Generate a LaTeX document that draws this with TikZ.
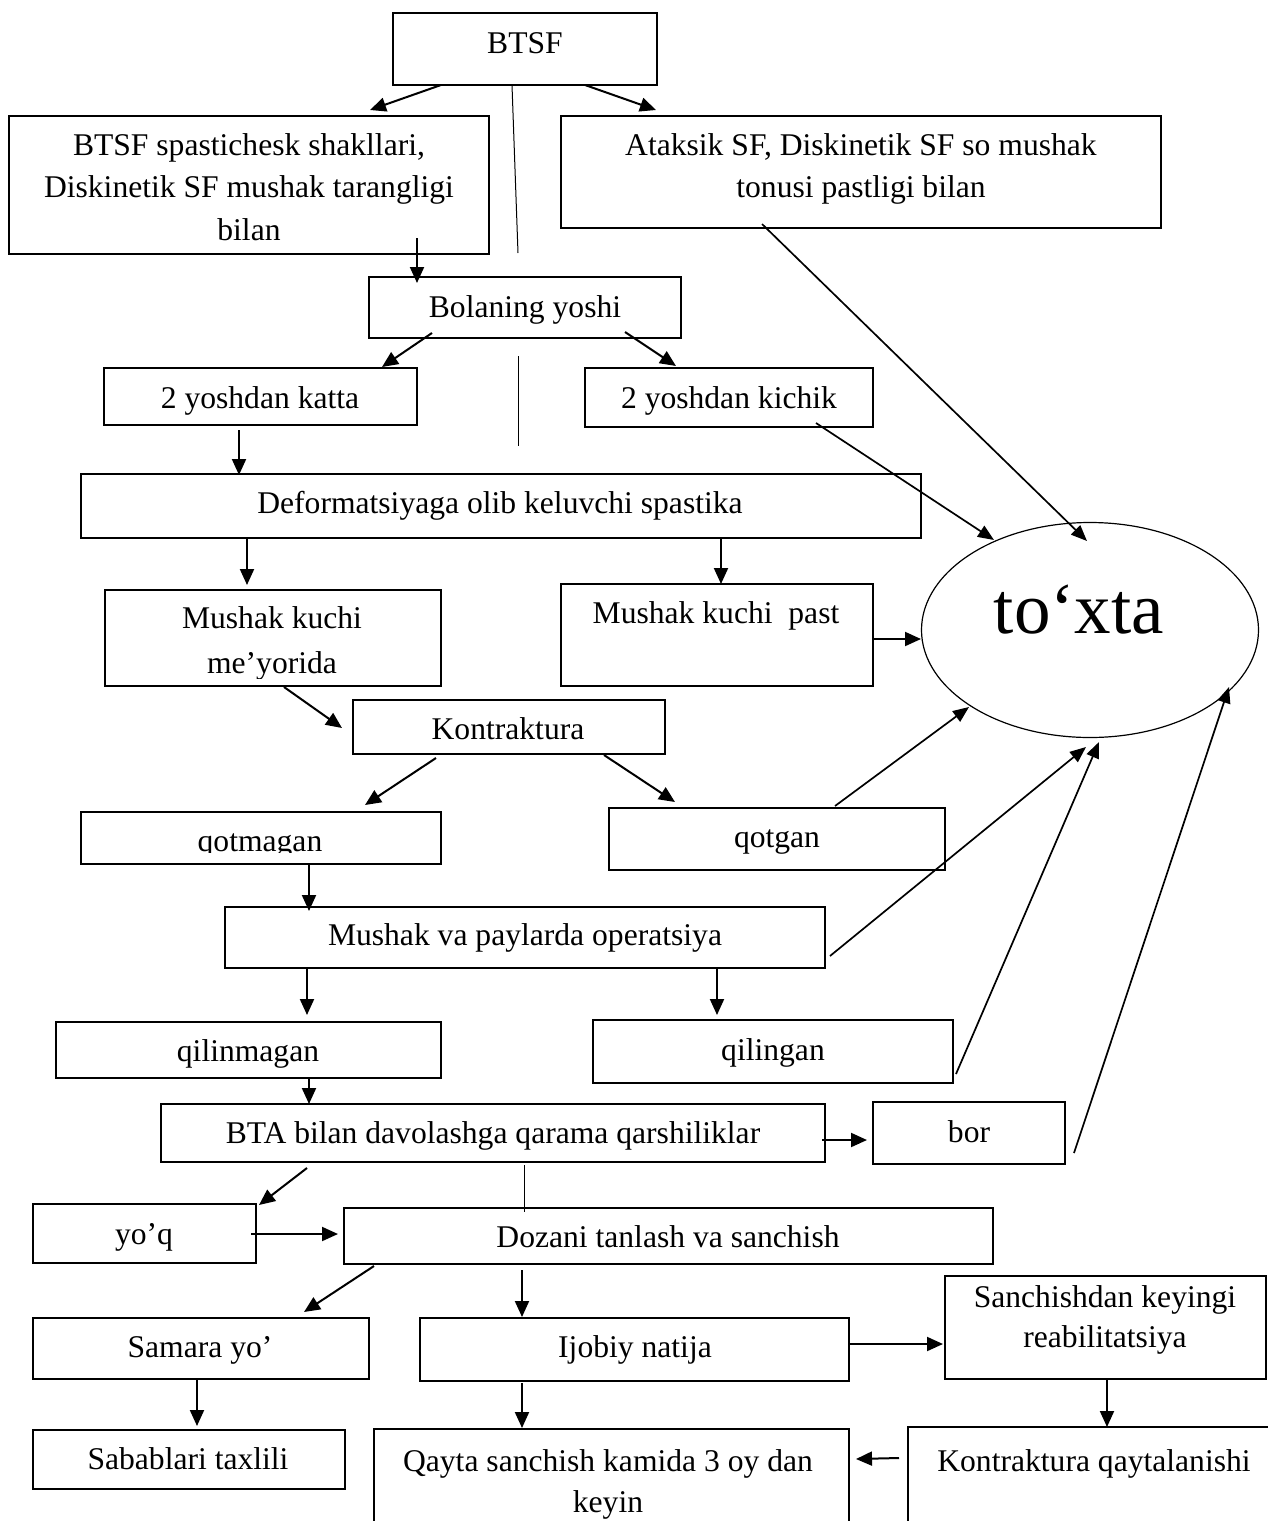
\documentclass[tikz,border=0pt]{standalone}
\usepackage{fontspec}
\setmainfont{Liberation Serif}
\usetikzlibrary{calc,fit,shapes.geometric,arrows.meta}
\begin{document}
\begin{tikzpicture}[x=0.5pt,y=-0.5pt,
  box/.style={draw, line width=1pt, rectangle, inner sep=0pt, outer sep=0pt},
  txt/.style={anchor=base, inner sep=0pt, outer sep=0pt, font=\fontsize{15.8}{21.5}\selectfont},
  arr/.style={line width=1pt, -{Triangle[length=8pt,width=7pt]}},
  larr/.style={line width=0.85pt, -{Triangle[length=8pt,width=6.5pt]}},
  plainline/.style={line width=0.5pt}]
\useasboundingbox (0,0) rectangle (1268,1521);
\begin{scope}
\clip (0,0) rectangle (1268,1521);
% boxes
\node[box, fit={(393,13) (657,85)}] (btsf) {};
\node[box, fit={(9,116) (489,254)}] (spast) {};
\node[box, fit={(561,116) (1161,228)}] (atak) {};
\node[box, fit={(369,277) (681,338)}] (bol) {};
\node[box, fit={(104,368) (417,425)}] (katta) {};
\node[box, fit={(585,368) (873,427)}] (kichik) {};
\node[box, fit={(81,474) (921,538)}] (deform) {};
\node[box, fit={(105,590) (441,686)}] (meyor) {};
\node[box, fit={(561,584) (873,686)}] (past) {};
\node[box, fit={(353,700) (665,754)}] (kontr) {};
\node[box, fit={(81,812) (441,864)}] (qotm) {};
\node[box, fit={(609,808) (945,870)}] (qotg) {};
\node[box, fit={(225,907) (825,968)}] (mva) {};
\node[box, fit={(56,1022) (441,1078)}] (qilm) {};
\node[box, fit={(593,1020) (953,1083)}] (qilg) {};
\node[box, fit={(161,1104) (825,1162)}] (bta) {};
\node[box, fit={(873,1102) (1065,1164)}] (bor) {};
\node[box, fit={(33,1204) (256,1263)}] (yoq) {};
\node[box, fit={(344,1208) (993,1264)}] (doz) {};
\node[box, fit={(33,1318) (369,1379)}] (sam) {};
\node[box, fit={(420,1318) (849,1381)}] (ijo) {};
\node[box, fit={(945,1276) (1266,1379)}] (san) {};
\node[box, fit={(33,1430) (345,1489)}] (sab) {};
\node[box, fit={(374,1429) (849,1560)}] (qay) {};
\node[box, fit={(908,1427) (1320,1560)}] (kq) {};
\node[draw, line width=0.6pt, ellipse, inner sep=0pt, outer sep=0pt,
      minimum width=168.5pt, minimum height=107.5pt] (stop) at (1090,630) {};

% texts
\node[txt] (btsf-t) at (525,53) {BTSF};
\node[txt] (spast-t1) at (249,155) {BTSF spastichesk shakllari,};
\node[txt] (spast-t2) at (249,197) {Diskinetik SF mushak tarangligi};
\node[txt] (spast-t3) at (249,240) {bilan};
\node[txt] (atak-t1) at (861,155) {Ataksik SF, Diskinetik SF so mushak};
\node[txt] (atak-t2) at (861,197) {tonusi pastligi bilan};
\node[txt] (bol-t) at (525,317) {Bolaning yoshi};
\node[txt] (katta-t) at (260,408) {2 yoshdan katta};
\node[txt] (kichik-t) at (729,408) {2 yoshdan kichik};
\node[txt] (deform-t) at (500,513) {Deformatsiyaga olib keluvchi spastika};
\node[txt] (meyor-t1) at (272,628) {Mushak kuchi};
\begin{scope}
\clip (105,640) rectangle (441,678);
\node[txt] (meyor-t2) at (272,673) {me’yorida};
\end{scope}
\node[txt] (past-t) at (716,623) {Mushak kuchi~ past};
\node[txt] (kontr-t) at (508,739) {Kontraktura};
\begin{scope}
\clip (81,812) rectangle (441,852);
\node[txt] (qotm-t) at (260,851) {qotmagan};
\end{scope}
\node[txt] (qotg-t) at (777,847) {qotgan};
\node[txt] (mva-t) at (525,945) {Mushak va paylarda operatsiya};
\node[txt] (qilm-t) at (248,1061) {qilinmagan};
\node[txt] (qilg-t) at (773,1060) {qilingan};
\node[txt] (bta-t) at (493,1143) {BTA bilan davolashga qarama qarshiliklar};
\node[txt] (bor-t) at (969,1142) {bor};
\node[txt] (yoq-t) at (144,1244) {yo’q};
\node[txt] (doz-t) at (668,1247) {Dozani tanlash va sanchish};
\node[txt] (sam-t) at (200,1357) {Samara yo’};
\node[txt] (ijo-t) at (635,1357) {Ijobiy natija};
\node[txt] (san-t1) at (1105,1307) {Sanchishdan keyingi};
\node[txt] (san-t2) at (1105,1347) {reabilitatsiya};
\node[txt] (sab-t) at (188,1469) {Sabablari taxlili};
\node[txt] (qay-t1) at (608,1471) {Qayta sanchish kamida 3 oy dan};
\node[txt] (qay-t2) at (608,1512) {keyin};
\node[txt] (kq-t) at (1094,1471) {Kontraktura qaytalanishi};
\node[anchor=base, inner sep=0pt, font=\fontsize{36.5}{40}\selectfont] (stop-t) at (1079,633) {to‘xta};

% connectors
\draw[arr] ($(btsf.south west)+(48,0)$) -- ($(spast.north west)+(361,-6)$);
\draw[plainline] ($(btsf.south west)+(119,0)$) -- ($(bol.north west)+(149,-24)$);
\draw[arr] ($(btsf.south west)+(192,0)$) -- ($(atak.north west)+(95,-6)$);
\draw[arr] ($(spast.south west)+(408,-16)$) -- ($(bol.north west)+(48,6)$);
\draw[arr] ($(bol.south west)+(63,-5)$) -- ($(katta.north west)+(278,-1)$);
\draw[arr] ($(bol.south west)+(256,-6)$) -- ($(kichik.north west)+(91,-2)$);
\draw[plainline] ($(bol.south west)+(149,18)$) -- ($(deform.north west)+(437,-28)$);
\draw[arr] ($(katta.south west)+(135,5)$) -- ($(deform.north west)+(158,1)$);
\draw[larr] ($(kichik.south west)+(231,-4)$) -- ($(stop.center)+(-96,-90)$);
\draw[larr] ($(atak.south west)+(201,-4)$) -- ($(stop.center)+(-3,-89)$);
\draw[arr] ($(deform.south west)+(166,0)$) -- ($(meyor.north west)+(142,-5)$);
\draw[arr] ($(deform.south west)+(640,0)$) -- ($(past.north west)+(160,0)$);
\draw[arr] ($(past.north east)+(0,55)$) -- ($(stop.center)+(-169,9)$);
\draw[arr] ($(meyor.south west)+(179,1)$) -- ($(kontr.north west)+(-11,28)$);
\draw[arr] ($(kontr.south west)+(83,4)$) -- ($(qotm.north west)+(284,-7)$);
\draw[arr] ($(kontr.south west)+(251,1)$) -- ($(qotg.north west)+(66,-6)$);
\draw[larr] ($(qotg.north west)+(226,-2)$) -- ($(stop.center)+(-121,77)$);
\draw[arr] ($(qotm.south west)+(228,0)$) -- ($(mva.north west)+(84,4)$);
\draw[arr] ($(mva.south west)+(82,1)$) -- ($(qilm.north west)+(251,-7)$);
\draw[arr] ($(mva.south west)+(492,0)$) -- ($(qilg.north west)+(124,-5)$);
\draw[larr] ($(mva.south east)+(5,-12)$) -- ($(stop.center)+(-4,117)$);
\draw[larr] ($(qilg.south east)+(3,-9)$) -- ($(stop.center)+(9,112)$);
\draw[larr] ($(bor.south east)+(9,-11)$) -- ($(stop.center)+(139,57)$);
\draw[arr] ($(qilm.south west)+(253,0)$) -- ($(bta.north west)+(148,0)$);
\draw[arr] ($(bta.north east)+(-3,36)$) -- ($(bor.north west)+(-6,38)$);
\draw[arr] ($(bta.south west)+(146,6)$) -- ($(yoq.north east)+(3,1)$);
\draw[plainline] ($(bta.south west)+(363,3)$) -- ($(doz.north west)+(180,4)$);
\draw[arr] ($(yoq.north east)+(-5,30)$) -- ($(doz.north west)+(-6,26)$);
\draw[arr] ($(doz.south west)+(30,2)$) -- ($(sam.north east)+(-65,-6)$);
\draw[arr] ($(doz.south west)+(178,6)$) -- ($(ijo.north west)+(102,-1)$);
\draw[arr] ($(ijo.north east)+(0,26)$) -- ($(san.north west)+(-2,68)$);
\draw[arr] ($(sam.south west)+(164,0)$) -- ($(sab.north west)+(164,-4)$);
\draw[arr] ($(ijo.south west)+(102,2)$) -- ($(qay.north west)+(148,-1)$);
\draw[arr] ($(san.south west)+(162,1)$) -- ($(kq.north west)+(199,0)$);
\draw[arr] ($(kq.north west)+(-9,31)$) -- ($(qay.north east)+(7,30)$);
\end{scope}
\end{tikzpicture}
\end{document}
